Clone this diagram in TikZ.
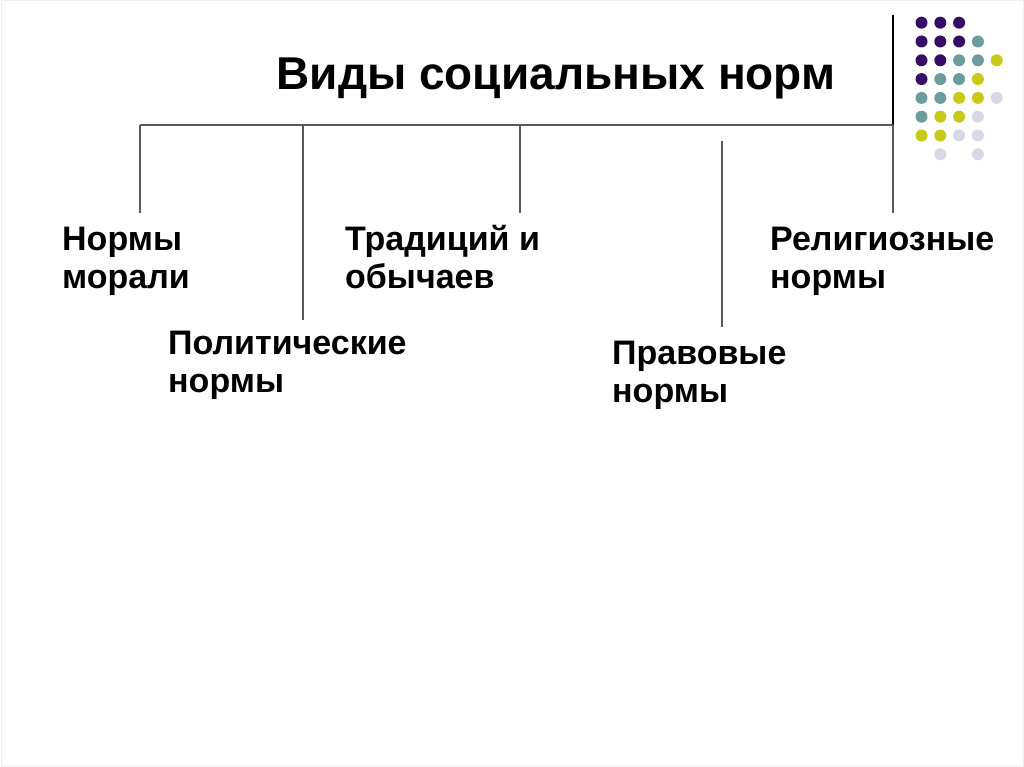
\documentclass[tikz,border=0pt]{standalone}
\usepackage{fontspec}
\setmainfont{Liberation Sans}
\begin{document}
\begin{tikzpicture}[x=1pt,y=-1pt,
  conn/.style={draw=black!65,line width=1.4pt},
  lbl/.style={font=\fontsize{34}{38}\selectfont\bfseries,align=left,anchor=base west,inner sep=0pt},
  ttl/.style={font=\fontsize{46}{50}\selectfont\bfseries,anchor=base,inner sep=0pt},
  dotP/.style={fill=dP,draw=none},
  dotT/.style={fill=dT,draw=none},
  dotY/.style={fill=dY,draw=none},
  dotL/.style={fill=dL,draw=none}]
\definecolor{dP}{HTML}{360C66}
\definecolor{dT}{HTML}{6B9C9E}
\definecolor{dY}{HTML}{C9C918}
\definecolor{dL}{HTML}{D8D8E8}
\useasboundingbox (0,0) rectangle (1024,767);
\fill[white] (0,0) rectangle (1024,767);
\draw[black!6,line width=1pt] (1,1) rectangle (1023,766);
% decorative slide line
\draw[black,line width=2pt] (893,15) -- (893,187);
% dots
\foreach \c/\r/\s in {1/1/P,2/1/P,3/1/P,
  1/2/P,2/2/P,3/2/P,4/2/T,
  1/3/P,2/3/P,3/3/T,4/3/T,5/3/Y,
  1/4/P,2/4/T,3/4/T,4/4/Y,
  1/5/T,2/5/T,3/5/Y,4/5/Y,5/5/L,
  1/6/T,2/6/Y,3/6/Y,4/6/L,
  1/7/Y,2/7/Y,3/7/L,4/7/L,
  2/8/L,4/8/L}
  \fill[dot\s] ({921.5+(\c-1)*18.8},{22.7+(\r-1)*18.8}) circle (6);
% title
\node[ttl] (title) at (556,90) {Виды социальных норм};
% bus
\coordinate (b1) at (140,125);
\coordinate (b2) at (303,125);
\coordinate (b3) at (520,125);
\coordinate (b5) at (893,125);
\coordinate (e1) at (140,213);
\coordinate (e2) at (303,320);
\coordinate (e3) at (520,213);
\coordinate (e4t) at (722,141);
\coordinate (e4) at (722,327);
\coordinate (e5) at (893,213);
\draw[conn] (b1) -- (b5);
\draw[conn] (b1) -- (e1);
\draw[conn] (b2) -- (e2);
\draw[conn] (b3) -- (e3);
\draw[conn] (e4t) -- (e4);
\draw[conn] (b5) -- (e5);
% labels (anchor = baseline of last line)
\node[lbl] (n1) at (62,288) {Нормы\\морали};
\node[lbl] (n2) at (168,392) {Политические\\нормы};
\node[lbl] (n3) at (345,288) {Традиций и\\обычаев};
\node[lbl] (n4) at (612,402) {Правовые\\нормы};
\node[lbl] (n5) at (770,288) {Религиозные\\нормы};
\end{tikzpicture}
\end{document}
